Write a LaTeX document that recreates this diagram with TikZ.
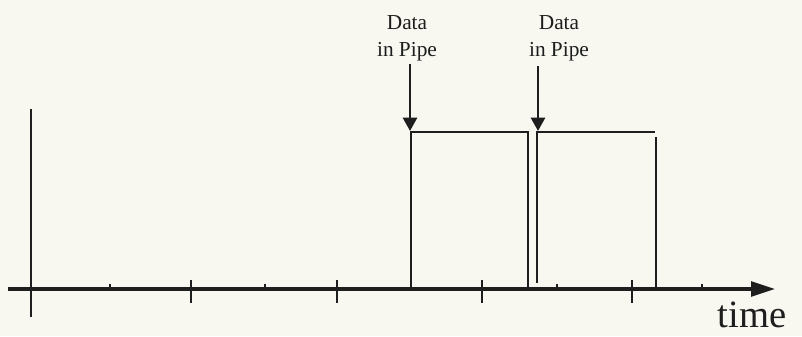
\documentclass[tikz,border=0pt]{standalone}
\usepackage{fontspec}
\setmainfont{Liberation Serif}
\usepackage{tikz}
\usetikzlibrary{arrows.meta}
\definecolor{paper}{RGB}{248,248,241}
\definecolor{ink}{RGB}{30,30,30}
\tikzstyle{signal} = [draw=ink, line width=2.2pt]
\tikzstyle{tick} = [draw=ink, line width=1.8pt]
\tikzstyle{line} = [draw=ink, fill=ink, line width=2pt, -{Triangle[length=10pt,width=10.5pt]}]
\tikzstyle{timeline} = [draw=ink, fill=ink, line width=2.6pt, -{Triangle[length=18pt,width=11pt]}]
\tikzstyle{mylabel} = [align=center, text=ink, font=\fontsize{16}{20}\selectfont, inner sep=0pt]
\tikzstyle{axislabel} = [text=ink, font=\fontsize{29}{32}\selectfont, inner sep=0pt]

\begin{document}
\begin{tikzpicture}[x=0.75pt, y=-0.75pt]
    \fill[paper] (0,0) rectangle (802,336);
    \useasboundingbox (0,0) rectangle (802,336);
    % Place coordinates
    \coordinate (tstart) at (8,289);
    \coordinate (tend) at (775,289);
    \coordinate (ytop) at (31,109);
    \coordinate (ybottom) at (31,317);
    \coordinate (topA) at (410,131);
    \coordinate (topB) at (538,131);
    % Place nodes
    \node [mylabel, anchor=south] (pipeA) at (407,61) {Data\\in Pipe};
    \node [mylabel, anchor=south] (pipeB) at (559,61) {Data\\in Pipe};
    \node [axislabel, anchor=base] (time) at (752,327) {time};
    % the axes
    \path [timeline] (tstart) -- (tend);
    \path [signal] (ytop) -- (ybottom);
    % major ticks
    \path [tick] (191,280) -- (191,303);
    \path [tick] (337,280) -- (337,303);
    \path [tick] (482,280) -- (482,303);
    \path [tick] (632,280) -- (632,303);
    % minor ticks
    \path [tick] (110,289) -- (110,284);
    \path [tick] (265,289) -- (265,284);
    \path [tick] (557,289) -- (557,284);
    \path [tick] (702,289) -- (702,284);
    % the pulses
    \path [signal] (411,289) -- (411,132) -- (528,132) -- (528,289);
    \path [signal] (537,283) -- (537,132) -- (655,132);
    \path [signal] (656,137) -- (656,289);
    % Draw edges
    \path [line, shorten <=2pt] (pipeA.south -| topA) -- (topA);
    \path [line, shorten <=4pt] (pipeB.south -| topB) -- (topB);
\end{tikzpicture}
\end{document}
